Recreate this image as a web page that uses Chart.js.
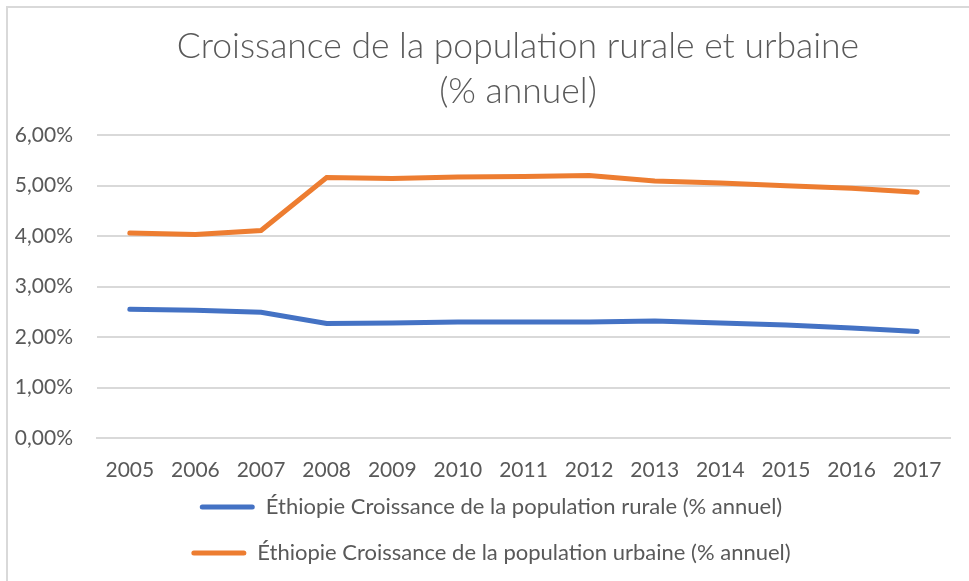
<!DOCTYPE html>
<html lang="fr">
<head>
<meta charset="UTF-8">
<title>Croissance de la population rurale et urbaine</title>
<script src="https://cdn.jsdelivr.net/npm/chart.js"></script>
<style>
  html, body { margin: 0; padding: 0; background: #fff; }
  #wrap { position: relative; width: 969px; height: 581px; }
</style>
</head>
<body>
<div id="wrap"><canvas id="chartCroissance" width="969" height="581"></canvas></div>
<script>
    // données
    var annees = ['2005', '2006', '2007', '2008', '2009', '2010', '2011', '2012', '2013', '2014', '2015', '2016', '2017'];
    var rurale = [2.55, 2.53, 2.49, 2.27, 2.28, 2.30, 2.30, 2.30, 2.32, 2.28, 2.24, 2.18, 2.11];
    var urbaine = [4.06, 4.03, 4.11, 5.16, 5.14, 5.17, 5.18, 5.20, 5.09, 5.05, 5.00, 4.95, 4.87];
    var titre = ['Croissance de la population rurale et urbaine', '(% annuel)'];
    var nomRurale = 'Éthiopie Croissance de la population rurale (% annuel)';
    var nomUrbaine = 'Éthiopie Croissance de la population urbaine (% annuel)';

    var gris = '#595959';
    var grille = '#d9d9d9';

    // cadre gris du graphique (bord gauche et haut visibles)
    const cadre = {
        id: 'cadre',
        beforeDraw(chart) {
            const c = chart.ctx;
            c.save();
            c.strokeStyle = grille;
            c.lineWidth = 2;
            c.strokeRect(7, 7, 2000, 2000);
            c.restore();
        }
    };

    // titre centré sur la zone de tracé, légende un peu remontée
    const decalages = {
        id: 'decalages',
        afterLayout(chart) {
            const t = chart.titleBlock;
            t.left += 43;
            t.right += 43;
            const l = chart.legend;
            l.top -= 7;
            l.bottom -= 7;
            l.left += 16;
            l.right += 16;
        }
    };

    const ctx = document.getElementById('chartCroissance');

    new Chart(ctx, {
        type: 'line',
        data: {
            labels: annees,
            datasets: [{
                label: nomRurale,
                data: rurale,
                borderColor: '#4472c4',
                backgroundColor: '#4472c4',
                borderWidth: 5,
                pointRadius: 0,
                borderCapStyle: 'round',
                tension: 0
            }, {
                label: nomUrbaine,
                data: urbaine,
                borderColor: '#ed7d31',
                backgroundColor: '#ed7d31',
                borderWidth: 5,
                pointRadius: 0,
                borderCapStyle: 'round',
                tension: 0
            }]
        },
        options: {
            responsive: false,
            animation: false,
            layout: { padding: { left: 0, right: 19, top: 0, bottom: 0 } },
            plugins: {
                title: {
                    display: true,
                    text: titre,
                    color: gris,
                    font: { family: 'Lato', size: 35.5, weight: '300', lineHeight: 1.27 },
                    padding: { top: 24, bottom: 21 }
                },
                legend: {
                    position: 'bottom',
                    labels: {
                        color: gris,
                        font: { family: 'Lato', size: 22 },
                        boxWidth: 55,
                        boxHeight: 5,
                        padding: 24,
                        useBorderRadius: true,
                        borderRadius: 2.5,
                        generateLabels: function (chart) {
                            return Chart.defaults.plugins.legend.labels.generateLabels(chart).map(function (l) {
                                l.lineWidth = 0;
                                return l;
                            });
                        }
                    }
                },
                tooltip: { enabled: false }
            },
            scales: {
                x: {
                    offset: true,
                    grid: { display: false, drawTicks: false },
                    border: { display: true, color: grille, width: 2 },
                    ticks: { color: gris, font: { family: 'Lato', size: 21 }, padding: 20, maxRotation: 0 },
                    afterFit: function (scale) { scale.height = 41; }
                },
                y: {
                    min: 0,
                    max: 6,
                    grid: { color: grille, lineWidth: 2, drawTicks: false },
                    border: { display: false },
                    ticks: {
                        stepSize: 1,
                        color: gris,
                        font: { family: 'Lato', size: 21 },
                        padding: 24,
                        callback: function (v) { return v.toFixed(2).replace('.', ',') + '%'; }
                    },
                    afterFit: function (scale) { scale.width = 97; }
                }
            }
        },
        plugins: [cadre, decalages]
    });
</script>
</body>
</html>
